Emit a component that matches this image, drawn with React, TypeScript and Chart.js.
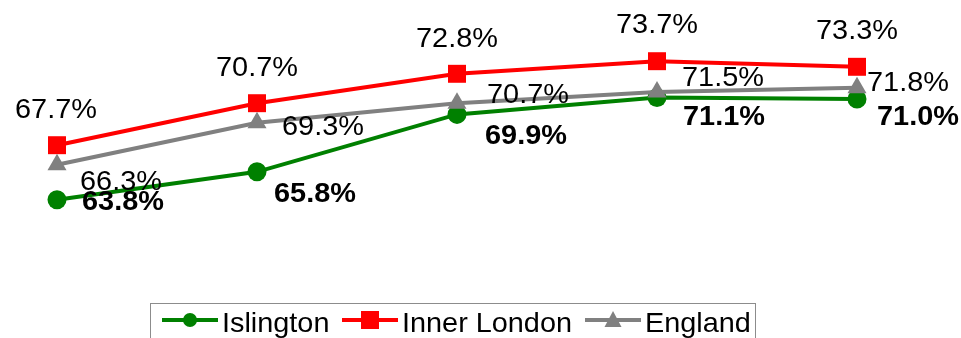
import React, { useEffect, useRef } from "react";
import { Chart, registerables } from "chart.js";

Chart.register(...registerables);

const categories = ["Point 1", "Point 2", "Point 3", "Point 4", "Point 5"];
const seriesNames = ["Islington", "Inner London", "England"];
const islington = [63.8, 65.8, 69.9, 71.1, 71.0];
const innerLondon = [67.7, 70.7, 72.8, 73.7, 73.3];
const england = [66.3, 69.3, 70.7, 71.5, 71.8];

const yMin = 60;
const yMax = 75;

const FONT = '"Liberation Sans", Arial, sans-serif';
const LABEL_SIZE = 27;
const STRETCH = 1.07;

// label placement per series: [dx, baseline dy] and alignment
const labelStyle: Record<string, { align: CanvasTextAlign; bold: boolean; off: number[][] }> = {
  Islington: { align: "left", bold: true, off: [[25, 10], [17, 30], [28, 30], [26, 27], [20, 26]] },
  "Inner London": { align: "center", bold: false, off: [[-1, -27], [0, -27], [0, -27], [0, -28], [0, -28]] },
  England: { align: "left", bold: false, off: [[23, 25], [25, 12], [30, 0], [25, -6], [10, 3]] },
};

// legend layout: start x of each item's line sample
const legendItemX = [162, 342, 585];

function drawText(ctx: CanvasRenderingContext2D, text: string, x: number, y: number, align: CanvasTextAlign, sx: number) {
  ctx.save();
  ctx.translate(x, y);
  ctx.scale(sx, 1);
  ctx.textAlign = align;
  ctx.textBaseline = "alphabetic";
  ctx.fillText(text, 0, 0);
  ctx.restore();
}

const labelPlugin = {
  id: "valueLabels",
  afterDatasetsDraw(chart: any) {
    const ctx = chart.ctx as CanvasRenderingContext2D;
    ctx.save();
    chart.data.datasets.forEach((ds: any, di: number) => {
      const meta = chart.getDatasetMeta(di);
      const st = labelStyle[ds.label];
      ctx.font = `${st.bold ? "bold " : ""}${LABEL_SIZE}px ${FONT}`;
      ctx.fillStyle = "#000";
      meta.data.forEach((pt: any, i: number) => {
        const v = ds.data[i] as number;
        const [dx, dy] = st.off[i];
        drawText(ctx, v.toFixed(1) + "%", pt.x + dx, pt.y + dy, st.align, STRETCH);
      });
    });
    ctx.restore();
  },
};

const legendPlugin = {
  id: "boxLegend",
  afterDraw(chart: any) {
    const ctx = chart.ctx as CanvasRenderingContext2D;
    ctx.save();
    ctx.strokeStyle = "#8c8c8c";
    ctx.lineWidth = 1;
    ctx.strokeRect(150.5, 303.5, 605, 60);
    ctx.font = `28px ${FONT}`;
    const yLine = 320;
    const sx = 1.03;
    chart.data.datasets
      .slice()
      .sort((a: any, b: any) => seriesNames.indexOf(a.label) - seriesNames.indexOf(b.label))
      .forEach((ds: any, k: number) => {
        const x = legendItemX[k];
        ctx.strokeStyle = ds.borderColor;
        ctx.lineWidth = 4;
        ctx.beginPath();
        ctx.moveTo(x, yLine);
        ctx.lineTo(x + 56, yLine);
        ctx.stroke();
        ctx.fillStyle = ds.borderColor;
        const cx = x + 28;
        ctx.beginPath();
        if (ds.pointStyle === "circle") {
          ctx.arc(cx, yLine, 7, 0, Math.PI * 2);
        } else if (ds.pointStyle === "rect") {
          ctx.rect(cx - 9, yLine - 9, 18, 18);
        } else {
          ctx.moveTo(cx, yLine - 9);
          ctx.lineTo(cx + 8.5, yLine + 7);
          ctx.lineTo(cx - 8.5, yLine + 7);
          ctx.closePath();
        }
        ctx.fill();
        ctx.fillStyle = "#000";
        drawText(ctx, ds.label, x + 60, 332, "left", sx);
      });
    ctx.restore();
  },
};

export default function App() {
  const ref = useRef<HTMLCanvasElement | null>(null);
  useEffect(() => {
    if (!ref.current) return;
    const chart = new Chart(ref.current, {
      type: "line",
      data: {
        labels: categories,
        datasets: [
          {
            label: "England",
            data: england,
            borderColor: "#808080",
            backgroundColor: "#808080",
            borderWidth: 4,
            pointStyle: "triangle",
            pointRadius: 11,
            pointBorderWidth: 0,
            pointBackgroundColor: "#808080",
            tension: 0,
            clip: false,
          } as any,
          {
            label: "Inner London",
            data: innerLondon,
            borderColor: "#ff0000",
            backgroundColor: "#ff0000",
            borderWidth: 4,
            pointStyle: "rect",
            pointRadius: 12.7,
            pointBorderWidth: 0,
            pointBackgroundColor: "#ff0000",
            tension: 0,
            clip: false,
          } as any,
          {
            label: "Islington",
            data: islington,
            borderColor: "#008000",
            backgroundColor: "#008000",
            borderWidth: 4,
            pointStyle: "circle",
            pointRadius: 9.5,
            pointBorderWidth: 0,
            pointBackgroundColor: "#008000",
            tension: 0,
            clip: false,
          } as any,
        ],
      },
      options: {
        animation: false,
        responsive: false,
        devicePixelRatio: 1,
        layout: { padding: { left: 57, right: 104, top: 43, bottom: 85 } },
        scales: {
          x: { display: false, offset: false },
          y: { display: false, min: yMin, max: yMax },
        },
        plugins: {
          legend: { display: false },
          tooltip: { enabled: false },
        },
      },
      plugins: [labelPlugin, legendPlugin],
    });
    return () => chart.destroy();
  }, []);
  return (
    <div style={{ position: "absolute", left: 0, top: 0, width: 961, height: 338, background: "#fff" }}>
      <canvas ref={ref} width={961} height={338} />
    </div>
  );
}
